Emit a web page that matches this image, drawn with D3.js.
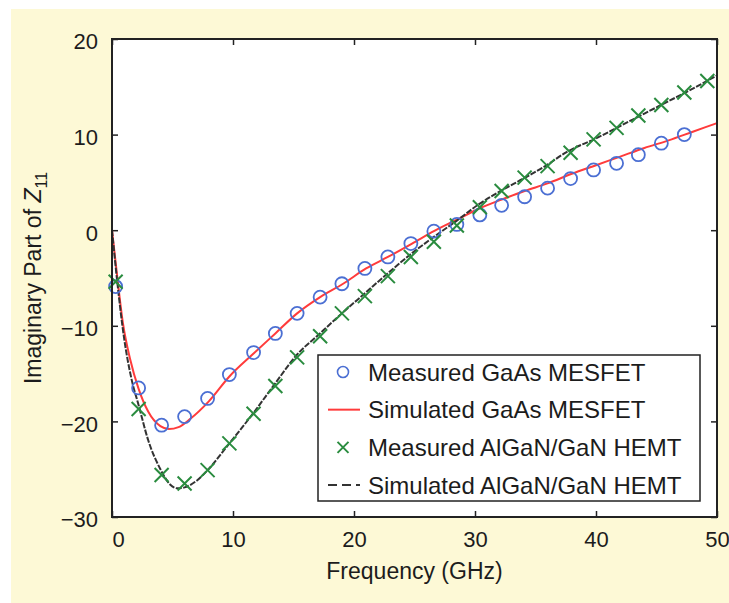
<!DOCTYPE html>
<html>
<head>
<meta charset="utf-8">
<script src="https://cdn.jsdelivr.net/npm/d3@7"></script>
<style>
  body { margin: 0; background: #fff; }
  svg { display: block; }
  text { font-family: "Liberation Sans", Arial, sans-serif; fill: #1c1c1c; }
</style>
</head>
<body>
<svg id="chart" width="729" height="603"></svg>
<script>
// measured points (GHz)
const measFreq = [0.3, 2.2, 4.1, 6.0, 7.9, 9.7, 11.7, 13.5, 15.3, 17.2, 19.0, 20.9, 22.8, 24.7,
  26.6, 28.5, 30.4, 32.2, 34.1, 36.0, 37.9, 39.8, 41.7, 43.5, 45.4, 47.3, 49.2];
const gaasMeasured = [-5.9, -16.5, -20.4, -19.5, -17.6, -15.1, -12.8, -10.8, -8.7, -7.0, -5.6, -4.0, -2.8, -1.4,
  -0.1, 0.6, 1.6, 2.6, 3.5, 4.4, 5.4, 6.3, 7.0, 7.9, 9.1, 10.0];
const hemtMeasured = [-5.4, -18.7, -25.6, -26.5, -25.1, -22.3, -19.2, -16.3, -13.3, -11.1, -8.7, -6.9, -4.8, -2.8,
  -1.2, 0.5, 2.4, 4.1, 5.5, 6.7, 8.1, 9.5, 10.7, 12.0, 13.1, 14.4, 15.6];

// simulated curves
const gaasSimFreq = [0, 0.4, 0.9, 1.5, 2.2, 3, 4, 4.7, 5.5, 6.5, 8, 9.7, 11.7, 13.5, 15.3, 17.2, 19.1, 21,
  22.8, 24.8, 26.6, 28.5, 30.4, 32.2, 34.1, 36, 38, 40, 42, 44, 46, 48, 50];
const gaasSim = [0, -4.5, -9.7, -13.5, -16.6, -19.0, -20.5, -20.8, -20.6, -19.7, -17.9, -15.3, -12.9, -10.8,
  -8.7, -7.0, -5.6, -4.0, -2.8, -1.4, -0.1, 1.1, 2.3, 3.2, 4.1, 4.9, 5.9, 6.8, 7.7, 8.6, 9.4, 10.3, 11.2];
const hemtSimFreq = [0, 0.4, 1, 1.6, 2.2, 3, 4, 4.8, 5.4, 6, 7, 7.9, 9.7, 11.7, 13.5, 15.3, 17.1, 19, 20.9,
  22.8, 24.8, 26.6, 28.5, 30.3, 32.1, 34, 35.8, 37.6, 40, 42, 44, 46, 48, 50];
const hemtSim = [0, -5, -11.3, -15.5, -18.3, -22.0, -25.0, -26.6, -27.0, -26.9, -26.2, -25.1, -22.3, -19.1,
  -16.0, -13.0, -10.9, -8.7, -6.6, -4.5, -2.4, -0.7, 1.0, 2.7, 4.1, 5.4, 6.7, 8.2, 9.6, 10.9, 12.2, 13.5, 14.8, 16.2];

const xTicks = [0, 10, 20, 30, 40, 50];
const yTicks = [-30, -20, -10, 0, 10, 20];
const legendLabels = ["Measured GaAs MESFET", "Simulated GaAs MESFET",
  "Measured AlGaN/GaN HEMT", "Simulated AlGaN/GaN HEMT"];

const plotL = 112, plotR = 717, plotT = 39, plotB = 517;
const blue = "#4b6fd3", red = "#ff3b3b", green = "#2a8c3f", dark = "#333";

const svg = d3.select("#chart");

// cream page background
svg.append("rect")
  .attr("x", 11).attr("y", 9).attr("width", 718).attr("height", 594)
  .attr("fill", "#fdf9d6");

const x = d3.scaleLinear().domain([0, 50]).range([plotL, plotR]);
const y = d3.scaleLinear().domain([-30, 20]).range([plotB, plotT]);

svg.append("rect")
  .attr("x", plotL).attr("y", plotT)
  .attr("width", plotR - plotL).attr("height", plotB - plotT)
  .attr("fill", "#fff");

// axes, ticks pointing inward
const axisFont = "22px";
const gx = svg.append("g").attr("transform", `translate(0,${plotB})`)
  .call(d3.axisBottom(x).tickValues(xTicks).tickSize(-6).tickPadding(14).tickFormat(d3.format("d")));
const gy = svg.append("g").attr("transform", `translate(${plotL},0)`)
  .call(d3.axisLeft(y).tickValues(yTicks).tickSize(-6).tickPadding(14).tickFormat(d => d < 0 ? "\u2212" + Math.abs(d) : d));
svg.append("g").attr("transform", `translate(0,${plotT})`)
  .call(d3.axisTop(x).tickValues(xTicks).tickSize(-6).tickFormat(""));
svg.append("g").attr("transform", `translate(${plotR},0)`)
  .call(d3.axisRight(y).tickValues(yTicks).tickSize(-6).tickFormat(""));

svg.selectAll(".domain").remove();
svg.selectAll(".tick line").attr("stroke", "#222").attr("stroke-width", 1.5);
svg.selectAll(".tick text").style("font-size", axisFont).style("font-family", "Liberation Sans, Arial, sans-serif").attr("fill", "#1c1c1c");
gy.selectAll(".tick text").attr("dy", "0.45em");
gx.selectAll(".tick text").filter(d => d === 0).attr("dx", 6);

// curves
const line = d3.line().x(d => x(d[0])).y(d => y(d[1])).curve(d3.curveMonotoneX);

svg.append("path")
  .datum(d3.zip(gaasSimFreq, gaasSim))
  .attr("d", line)
  .attr("fill", "none").attr("stroke", red).attr("stroke-width", 2);

svg.append("path")
  .datum(d3.zip(hemtSimFreq, hemtSim))
  .attr("d", line)
  .attr("fill", "none").attr("stroke", dark).attr("stroke-width", 2)
  .attr("stroke-dasharray", "6,1.5");

// measured markers
svg.append("g").selectAll("circle")
  .data(d3.zip(measFreq, gaasMeasured))
  .join("circle")
  .attr("cx", d => x(d[0])).attr("cy", d => y(d[1])).attr("r", 6.5)
  .attr("fill", "none").attr("stroke", blue).attr("stroke-width", 1.8);

const cross = (g, s) => g.append("path")
  .attr("d", `M${-s},${-s}L${s},${s}M${-s},${s}L${s},${-s}`)
  .attr("stroke", green).attr("stroke-width", 2).attr("fill", "none");

svg.append("g").selectAll("g")
  .data(d3.zip(measFreq, hemtMeasured))
  .join("g")
  .attr("transform", d => `translate(${x(d[0])},${y(d[1])})`)
  .each(function () { cross(d3.select(this), 7); });

// frame
svg.append("rect")
  .attr("x", plotL).attr("y", plotT)
  .attr("width", plotR - plotL).attr("height", plotB - plotT)
  .attr("fill", "none").attr("stroke", "#222").attr("stroke-width", 2);

// axis titles
svg.append("text")
  .attr("x", (plotL + plotR) / 2).attr("y", 579)
  .attr("text-anchor", "middle").style("font-size", "23px")
  .text("Frequency (GHz)");

const yt = svg.append("text")
  .attr("transform", `translate(41,${(plotT + plotB) / 2}) rotate(-90)`)
  .attr("text-anchor", "middle").style("font-size", "23px");
yt.append("tspan").text("Imaginary Part of ");
yt.append("tspan").style("font-style", "italic").text("Z");
yt.append("tspan").attr("dy", 6).style("font-size", "16px").text("11");

// legend
const lg = svg.append("g");
lg.append("rect")
  .attr("x", 318).attr("y", 355).attr("width", 382).attr("height", 146)
  .attr("fill", "#fff").attr("stroke", "#222").attr("stroke-width", 1.5);

const rowY = d3.scaleLinear().domain([0, 3]).range([372, 485]);
legendLabels.forEach((label, i) => {
  const cy = rowY(i);
  if (i === 0) {
    lg.append("circle").attr("cx", 343).attr("cy", cy).attr("r", 5.5)
      .attr("fill", "none").attr("stroke", blue).attr("stroke-width", 1.6);
  } else if (i === 1) {
    lg.append("line").attr("x1", 328).attr("x2", 360).attr("y1", cy).attr("y2", cy)
      .attr("stroke", red).attr("stroke-width", 2);
  } else if (i === 2) {
    cross(lg.append("g").attr("transform", `translate(343,${cy})`), 5.5);
  } else {
    lg.append("line").attr("x1", 328).attr("x2", 360).attr("y1", cy).attr("y2", cy)
      .attr("stroke", dark).attr("stroke-width", 2).attr("stroke-dasharray", "9,5");
  }
  lg.append("text").attr("x", 368).attr("y", cy).attr("dy", "0.36em")
    .style("font-size", "24px").text(label);
});
</script>
</body>
</html>
